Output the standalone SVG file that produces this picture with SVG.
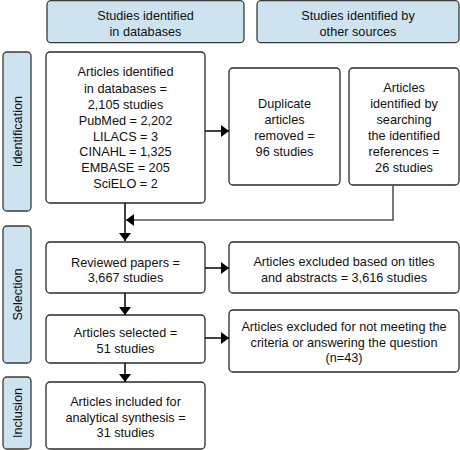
<svg xmlns="http://www.w3.org/2000/svg" width="460" height="450" viewBox="0 0 460 450">
<defs>
<style>
.hdr{fill:#cde3ef;stroke:#3a3a3a;stroke-width:1.3}
.box{fill:#fff;stroke:#2a2a2a;stroke-width:1.3}
.t{font-family:"Liberation Sans",Arial,sans-serif;font-size:12.7px;fill:#111;text-anchor:middle}
.ln{stroke:#111;stroke-width:1.6;fill:none}
.ln2{stroke:#555;stroke-width:1.6;fill:none}
</style>
<marker id="ah" viewBox="0 0 8 12" refX="8" refY="6" markerWidth="8" markerHeight="12" markerUnits="userSpaceOnUse" orient="auto">
<path d="M0,0 L8,6 L0,12 Z" fill="#000"/>
</marker>
</defs>
<rect width="460" height="450" fill="#fff"/>

<g id="hdr-databases">
<rect class="hdr" x="47" y="0.7" width="197" height="42" rx="4"/>
<text class="t" x="145.5" y="19.5">Studies identified</text>
<text class="t" x="145.5" y="35.5">in databases</text>
</g>
<g id="hdr-other">
<rect class="hdr" x="257" y="0.7" width="202" height="42" rx="4"/>
<text class="t" x="358" y="19.5">Studies identified by</text>
<text class="t" x="358" y="35.5">other sources</text>
</g>

<g id="lbl-identification">
<rect class="hdr" x="3" y="52" width="28" height="159" rx="4"/>
<text class="t" transform="translate(22,131.5) rotate(-90)">Identification</text>
</g>
<g id="lbl-selection">
<rect class="hdr" x="3" y="226" width="28" height="137" rx="4"/>
<text class="t" transform="translate(22,294.5) rotate(-90)">Selection</text>
</g>
<g id="lbl-inclusion">
<rect class="hdr" x="3" y="377" width="28" height="72" rx="4"/>
<text class="t" transform="translate(22,413) rotate(-90)">Inclusion</text>
</g>

<g id="n-identified">
<rect class="box" x="46" y="52" width="159" height="151" rx="4"/>
<text class="t" x="125.5" y="76">Articles identified</text>
<text class="t" x="125.5" y="92.5">in databases =</text>
<text class="t" x="125.5" y="108.5">2,105 studies</text>
<text class="t" x="125.5" y="124.5">PubMed = 2,202</text>
<text class="t" x="125.5" y="140.5">LILACS = 3</text>
<text class="t" x="125.5" y="156">CINAHL = 1,325</text>
<text class="t" x="125.5" y="172">EMBASE = 205</text>
<text class="t" x="125.5" y="188">SciELO = 2</text>
</g>

<g id="n-duplicates">
<rect class="box" x="229" y="68" width="111" height="117" rx="4"/>
<text class="t" x="284.5" y="107.5">Duplicate</text>
<text class="t" x="284.5" y="123.5">articles</text>
<text class="t" x="284.5" y="139.5">removed =</text>
<text class="t" x="284.5" y="156">96 studies</text>
</g>

<g id="n-references">
<rect class="box" x="349" y="68" width="110" height="117" rx="4"/>
<text class="t" x="404" y="91.5">Articles</text>
<text class="t" x="404" y="107.5">identified by</text>
<text class="t" x="404" y="123.5">searching</text>
<text class="t" x="404" y="139.5">the identified</text>
<text class="t" x="404" y="156">references =</text>
<text class="t" x="404" y="171.5">26 studies</text>
</g>

<g id="n-reviewed">
<rect class="box" x="46" y="242" width="159" height="51" rx="4"/>
<text class="t" x="125.5" y="266.5">Reviewed papers =</text>
<text class="t" x="125.5" y="281.5">3,667 studies</text>
</g>

<g id="n-excluded1">
<rect class="box" x="229" y="242" width="230" height="51" rx="4"/>
<text class="t" x="344" y="265.5">Articles excluded based on titles</text>
<text class="t" x="344" y="281.5">and abstracts = 3,616 studies</text>
</g>

<g id="n-selected">
<rect class="box" x="46" y="315" width="159" height="48" rx="4"/>
<text class="t" x="125.5" y="336.5">Articles selected =</text>
<text class="t" x="125.5" y="352.5">51 studies</text>
</g>

<g id="n-excluded2">
<rect class="box" x="229" y="310" width="230" height="62" rx="4"/>
<text class="t" x="344" y="330.5">Articles excluded for not meeting the</text>
<text class="t" x="344" y="346.5">criteria or answering the question</text>
<text class="t" x="344" y="361.5">(n=43)</text>
</g>

<g id="n-included">
<rect class="box" x="46" y="382" width="159" height="67" rx="4"/>
<text class="t" x="125.5" y="405.5">Articles included for</text>
<text class="t" x="125.5" y="421.5">analytical synthesis =</text>
<text class="t" x="125.5" y="436.5">31 studies</text>
</g>

<g id="connectors">
<line class="ln" x1="205" y1="131" x2="229" y2="131" marker-end="url(#ah)"/>
<polyline class="ln2" points="393,185 393,220 126,220" marker-end="url(#ah)"/>
<line class="ln" x1="125" y1="203" x2="125" y2="241" marker-end="url(#ah)"/>
<line class="ln" x1="205" y1="268" x2="229" y2="268" marker-end="url(#ah)"/>
<line class="ln" x1="205" y1="338" x2="229" y2="338" marker-end="url(#ah)"/>
<line class="ln" x1="125" y1="293" x2="125" y2="315" marker-end="url(#ah)"/>
<line class="ln" x1="125" y1="363" x2="125" y2="382" marker-end="url(#ah)"/>
</g>
</svg>
